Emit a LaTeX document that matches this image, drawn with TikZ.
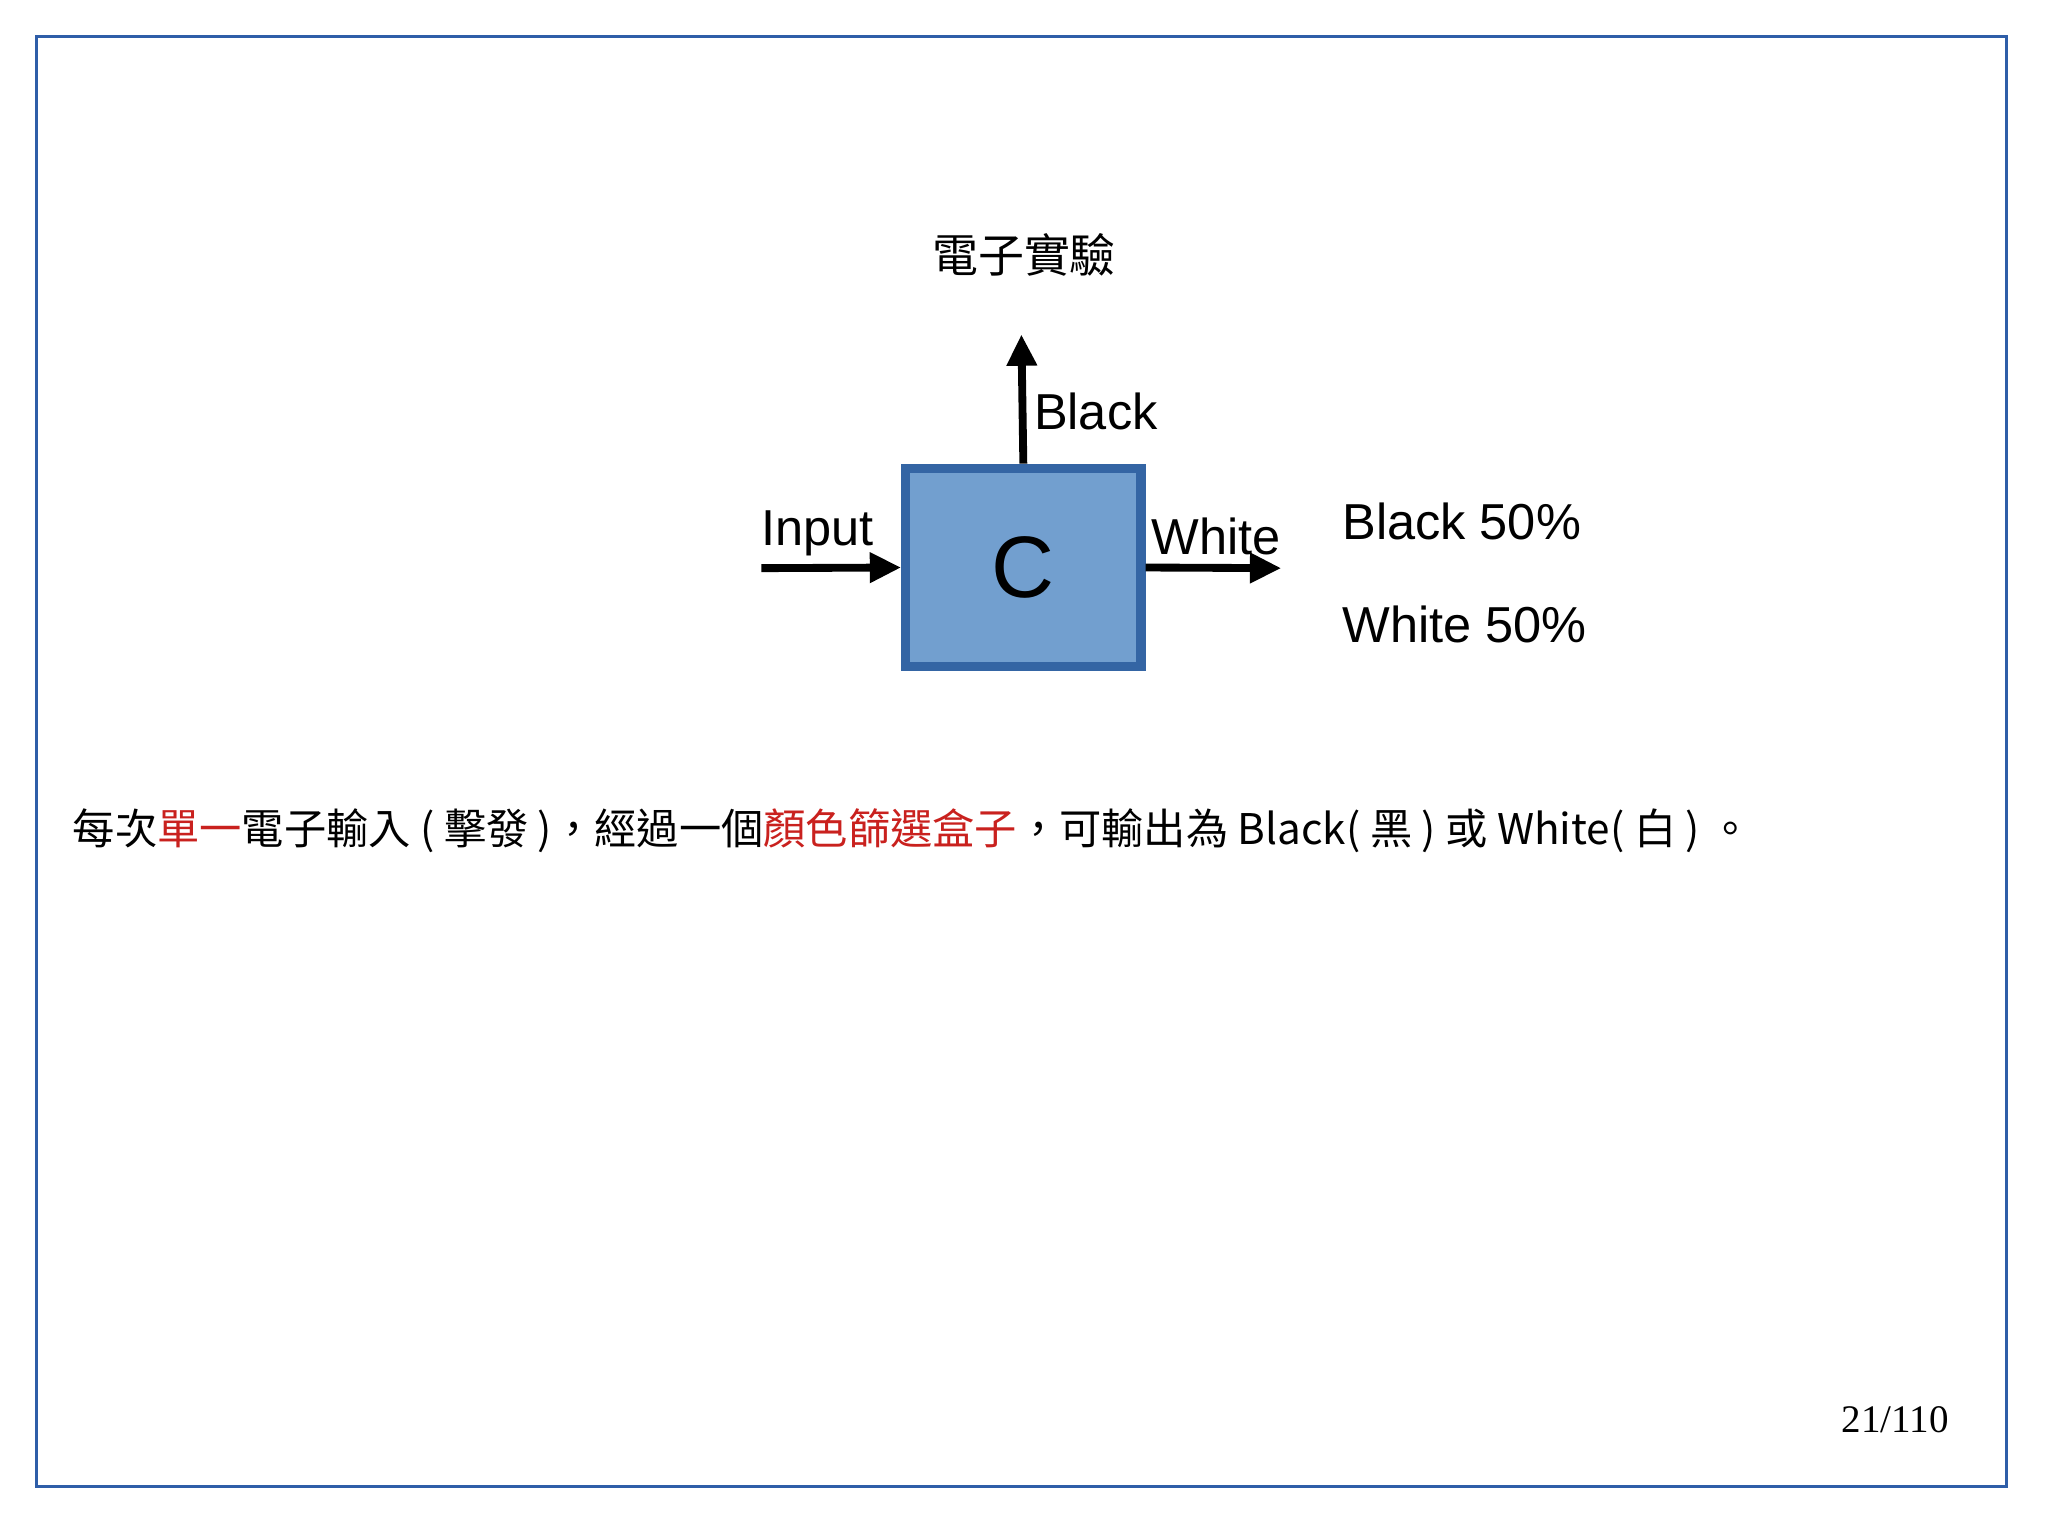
\documentclass[tikz,border=0pt]{standalone}
\usepackage{fontspec}
\setmainfont{Liberation Sans}
\newfontfamily\cjk{Noto Sans CJK TC}
\newfontfamily\serifnum{Liberation Serif}
\usetikzlibrary{arrows.meta}
\definecolor{frameblue}{HTML}{2F5EA8}
\definecolor{boxfill}{HTML}{729FCF}
\definecolor{boxline}{HTML}{3465A4}
\definecolor{redtxt}{HTML}{C9211E}
\tikzset{flow/.style={line width=0.6mm,-{Triangle[length=2.4mm,width=2.2mm]}},
 lbl/.style={font=\fontsize{11}{13}\selectfont,inner sep=0pt}}
\begin{document}
\begin{tikzpicture}[x=0.01cm,y=-0.01cm]
\useasboundingbox (0,0) rectangle (1568,1176);
\draw[frameblue,line width=0.2mm] (28,28) rectangle (1536,1138);
\node[draw=boxline,fill=boxfill,line width=0.7mm,minimum width=1.8cm,minimum height=1.52cm,inner sep=0pt,font=\fontsize{19}{22}\selectfont] (c) at (783.5,434.5) {C};
\coordinate (in) at (583,435);
\coordinate (out) at (981,435);
\coordinate (up) at (782,256);
\draw[flow] (in) -- (c.west);
\draw[flow] (c.east) -- (out);
\draw[flow] (c.north) -- (up);
\node[lbl] (linput) at (626,408) {Input};
\node[lbl] (lwhite) at (931,411) {White};
\node[lbl,anchor=west] (lblack) at (791,315) {Black};
\node[lbl,anchor=west] (p1) at (1027,399) {Black 50\%};
\node[lbl,anchor=west] (p2) at (1027,478) {White 50\%};
\node[inner sep=0pt,font=\cjk\fontsize{10}{12}\selectfont] (title) at (784,195) {電子實驗};
\node[inner sep=0pt,anchor=west,font=\cjk\fontsize{9.2}{11}\selectfont] (desc) at (55,636) {每次\textcolor{redtxt}{單一}電子輸入 ( 擊發 )，經過一個\textcolor{redtxt}{顏色篩選盒子}，可輸出為 Black( 黑 ) 或 White( 白 ) 。};
\node[inner sep=0pt,font=\serifnum\fontsize{8.5}{10}\selectfont] (pg) at (1451,1087) {21/110};
\end{tikzpicture}
\end{document}
